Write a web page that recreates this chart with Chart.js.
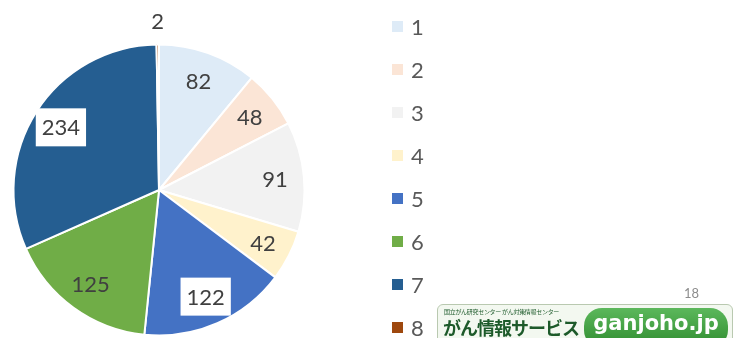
<!DOCTYPE html>
<html>
<head>
<meta charset="utf-8">
<script src="https://cdn.jsdelivr.net/npm/chart.js@4/dist/chart.umd.min.js"></script>
<style>
  html, body { margin: 0; padding: 0; background: #fff; }
  #wrap { position: relative; width: 735px; height: 338px; overflow: hidden; }
  #pieChart { position: absolute; left: 0; top: 0; }
  #pageNo { position: absolute; left: 684px; top: 285px; font: 13px Lato, sans-serif; color: #8c8c8c; }
  #logo {
    position: absolute; left: 437px; top: 304px; width: 294px; height: 40px;
    border: 1px solid #b9c9b0; border-radius: 6px; background: #f3f8f0;
    font-family: "Noto Sans CJK JP", sans-serif; color: #1d5a2a; overflow: hidden;
  }
  #logo .small { position: absolute; left: 6px; top: 2px; font-size: 6px; letter-spacing: -0.3px; }
  #logo .big { position: absolute; left: 5px; top: 9px; font-size: 18px; font-weight: bold; letter-spacing: -1px; }
  #logo .pill {
    position: absolute; left: 146px; top: 3px; width: 144px; height: 40px; border-radius: 18px;
    background: linear-gradient(#5cb85c, #2e8b2e); color: #fff; font-family: "DejaVu Sans", sans-serif;
    font-weight: bold; font-size: 21px; text-align: center; line-height: 30px;
  }
</style>
</head>
<body>
<div id="wrap">
  <canvas id="pieChart" width="735" height="338"></canvas>
  <div id="pageNo">18</div>
  <div id="logo">
    <div class="small">国立がん研究センター がん対策情報センター</div>
    <div class="big">がん情報サービス</div>
    <div class="pill">ganjoho.jp</div>
  </div>
</div>
<script>
// 区分ごとの件数
const categories = ['1', '2', '3', '4', '5', '6', '7', '8'];
const counts = [82, 48, 91, 42, 122, 125, 234, 2];
const sliceColors = ['#DEEBF7', '#FBE5D6', '#F2F2F2', '#FFF2CC', '#4472C4', '#70AD47', '#255E91', '#9E480E'];

// 白い枠付きで表示するラベル
const boxedLabels = [4, 6];
const labelFont = '22px Lato, sans-serif';

// 値ラベル（小さい扇形は外側に出す）
const valueLabels = {
    id: 'valueLabels',
    afterDatasetsDraw(chart) {
        const ctx = chart.ctx;
        const meta = chart.getDatasetMeta(0);
        const total = counts.reduce((a, b) => a + b, 0);
        ctx.save();
        ctx.font = labelFont;
        ctx.textAlign = 'center';
        ctx.textBaseline = 'middle';
        meta.data.forEach((arc, i) => {
            const p = arc.getProps(['x', 'y', 'startAngle', 'endAngle', 'outerRadius'], true);
            const mid = (p.startAngle + p.endAngle) / 2;
            const small = counts[i] / total < 0.01;
            const r = small ? p.outerRadius + 24 : p.outerRadius * 0.8;
            const x = p.x + Math.cos(mid) * r;
            const y = p.y + Math.sin(mid) * r;
            const text = String(counts[i]);
            if (boxedLabels.includes(i)) {
                const w = ctx.measureText(text).width + 12;
                ctx.fillStyle = '#ffffff';
                ctx.fillRect(x - w / 2, y - 19, w, 38);
            }
            ctx.fillStyle = '#404040';
            ctx.fillText(text, x, y + 1);
        });
        ctx.restore();
    }
};

// 右側の凡例
const sideLegend = {
    id: 'sideLegend',
    afterDraw(chart) {
        const ctx = chart.ctx;
        ctx.save();
        ctx.font = '22px Lato, sans-serif';
        ctx.textBaseline = 'middle';
        categories.forEach((name, i) => {
            const y = 27 + i * 43;
            ctx.fillStyle = sliceColors[i];
            ctx.fillRect(392, y - 6, 11, 11);
            ctx.fillStyle = '#595959';
            ctx.fillText(name, 411, y + 1);
        });
        ctx.restore();
    }
};

const ctxPie = document.getElementById('pieChart').getContext('2d');
const pieChart = new Chart(ctxPie, {
    type: 'pie',
    data: {
        labels: categories,
        datasets: [{
            data: counts,
            backgroundColor: sliceColors,
            borderColor: '#ffffff',
            borderWidth: 2
        }]
    },
    options: {
        responsive: false,
        animation: false,
        layout: {
            padding: { left: 12.5, top: 43.5, right: 429.5, bottom: 1.5 }
        },
        plugins: {
            legend: { display: false },
            tooltip: { enabled: false }
        }
    },
    plugins: [valueLabels, sideLegend]
});
</script>
</body>
</html>
